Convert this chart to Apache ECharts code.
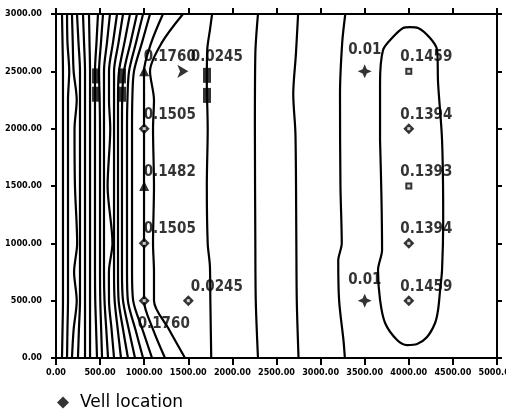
<!DOCTYPE html>
<html><head><meta charset="utf-8">
<script src="https://cdn.jsdelivr.net/npm/echarts@6/dist/echarts.min.js"></script>
<style>html,body{margin:0;padding:0;background:#fff}#c{width:506px;height:413px}</style>
</head><body><div id="c"></div>
<script>
// ---------- data ----------
const xTickLabels = ['0.00','500.00','1000.00','1500.00','2000.00','2500.00','3000.00','3500.00','4000.00','4500.00','5000.00'];
const yTickLabels = ['0.00','500.00','1000.00','1500.00','2000.00','2500.00','3000.00'];

// left cluster of contours: x at each of these y levels
const leftLevels = [3000, 2750, 2500, 2250, 2000, 1500, 1000, 750, 500, 250, 0];
const leftContours = [
  [68, 74, 79, 79, 79, 79, 79, 79, 79, 74, 68],
  [125, 130, 150, 136, 136, 136, 136, 136, 136, 130, 125],
  [181, 190, 200, 235, 210, 215, 240, 205, 235, 200, 181],
  [238, 255, 272, 272, 272, 272, 272, 272, 272, 260, 249],
  [306, 318, 329, 329, 329, 329, 329, 329, 329, 329, 329],
  [374, 380, 386, 386, 386, 386, 386, 386, 386, 386, 386],
  [476, 459, 442, 442, 442, 442, 442, 442, 445, 455, 465],
  [533, 510, 488, 495, 499, 499, 499, 499, 502, 512, 522],
  [612, 578, 544, 544, 544, 544, 544, 544, 550, 570, 590],
  [692, 646, 601, 601, 615, 585, 640, 600, 601, 630, 658],
  [760, 709, 658, 658, 658, 658, 658, 658, 665, 700, 737],
  [839, 776, 714, 703, 703, 703, 703, 703, 710, 760, 816],
  [918, 845, 771, 750, 748, 748, 748, 748, 760, 825, 896],
  [987, 907, 828, 810, 805, 805, 805, 805, 815, 900, 987],
  [1066, 975, 884, 865, 862, 862, 862, 862, 875, 980, 1089],
  [1213, 1080, 998, 998, 998, 998, 998, 998, 998, 1100, 1236],
  [1440, 1200, 1066, 1111, 1100, 1111, 1100, 1111, 1111, 1280, 1463]
];
const contourB = [[1770,3000],[1745,2860],[1715,2690],[1710,2400],[1720,2000],[1710,1500],[1720,1000],[1745,800],[1750,500],[1760,0]];
const contourC = [[2290,3000],[2260,2650],[2255,2000],[2260,1000],[2265,500],[2290,0]];
const contourD = [[2745,3000],[2720,2650],[2690,2300],[2715,1950],[2725,1000],[2730,500],[2750,0]];
const contourE = [[3280,3000],[3245,2750],[3220,2300],[3225,1500],[3240,1000],[3200,850],[3210,500],[3260,150],[3275,0]];
const contourLoop = [[3674,1901],[3674,2398],[3708,2686],[3810,2790],[3935,2878],[4014,2886],[4105,2878],[4241,2790],[4321,2686],[4332,2398],[4377,1901],[4390,1200],[4377,767],[4355,593],[4332,419],[4298,305],[4207,183],[4094,122],[3980,113],[3867,157],[3731,305],[3674,506],[3651,767],[3697,942],[3690,1400],[3674,1901]];

// wells
const wellX = [1000,1500,1000,1000,1000,1000,1500,3500,3500,4000,4000,4000,4000,4000];
const wellY = [2500,2500,2000,1500,1000,500,500,2500,500,2500,2000,1500,1000,500];
const wellLabels = ['0.1760','0.0245','0.1505','0.1482','0.1505','0.1760','0.0245','0.01','0.01','0.1459','0.1394','0.1393','0.1394','0.1459'];

// contour label blocks
const blockX = [454, 454, 748, 748, 1712, 1712];
const blockY = [2460, 2300, 2460, 2300, 2465, 2290];

// ---------- styling ----------
const FONT = "'DejaVu Sans Condensed','Liberation Sans Narrow','DejaVu Sans',sans-serif";
const markerKind = ['tri','arrow','dia','tri','dia','dia','dia','star','star','sq','dia','sq','dia','dia'];
const kinds = {
  tri:  {symbol:'triangle', size:10, rotate:0, inner:0},
  arrow:{symbol:'arrow', size:[10,11], rotate:-90, inner:0},
  dia:  {symbol:'diamond', size:11, rotate:0, inner:3},
  star: {symbol:'path://M0,-10 L3,-3 L10,0 L3,3 L0,10 L-3,3 L-10,0 L-3,-3 Z', size:14, rotate:0, inner:0},
  sq:   {symbol:'rect', size:7, rotate:0, inner:3}
};
function labelOffset(i){
  const x = wellX[i], y = wellY[i];
  if (x === 3500) return [-17, -21];
  if (x === 4000) return [-9, -14];
  if (x === 1000 && y === 500) return [-7, 23];
  if (x === 1500) return [2, -14];
  return [-1, -14];
}
function lineSeries(data){
  return {type:'line', data:data, symbol:'none', showSymbol:false, smooth:0.3, silent:true,
    lineStyle:{color:'#000', width:2.2}, z:2};
}

const series = [];
leftContours.forEach(xs => series.push(lineSeries(xs.map((x, j) => [x, leftLevels[j]]))));
[contourB, contourC, contourD, contourE, contourLoop].forEach(d => series.push(lineSeries(d)));

series.push({
  type:'scatter', silent:true, z:4,
  data: blockX.map((x, i) => [x, blockY[i]]),
  symbol:'rect', symbolSize:[8, 15], itemStyle:{color:'#000'}
});

series.push({
  name:'Vell location', type:'scatter', silent:true, z:5,
  itemStyle:{color:'#000'},
  data: wellX.map((x, i) => {
    const k = kinds[markerKind[i]];
    return {value:[x, wellY[i]], symbol:k.symbol, symbolSize:k.size, symbolRotate:k.rotate};
  })
});
series.push({
  type:'scatter', silent:true, z:6,
  itemStyle:{color:'#fff'},
  data: wellX.map((x, i) => ({value:[x, wellY[i]], symbol:'rect', symbolSize:kinds[markerKind[i]].inner}))
    .filter((d, i) => kinds[markerKind[i]].inner > 0)
});
// well value labels
series.push({
  type:'scatter', silent:true, z:7, symbol:'rect', symbolSize:1,
  itemStyle:{color:'rgba(0,0,0,0)'},
  data: wellX.map((x, i) => ({
    value:[x, wellY[i]],
    label:{show:true, formatter:wellLabels[i], position:'right', distance:0, align:'left', verticalAlign:'middle',
      offset:labelOffset(i), fontSize:15, fontWeight:'bold', fontFamily:FONT, color:'#000', textBorderWidth:0}
  }))
});

const axisLine = {show:true, onZero:false, lineStyle:{color:'#000', width:2}};
const tickStyle = {color:'#000', width:2};
const option = {
  animation:false,
  backgroundColor:'#fff',
  grid:{left:56, right:9, top:14, bottom:55, outerBoundsMode:'none', containLabel:false},
  legend:{
    data:['Vell location'], left:52, top:389, icon:'diamond', itemWidth:12, itemHeight:12,
    textStyle:{fontSize:17, fontFamily:"'DejaVu Sans',sans-serif", color:'#000', padding:[0,0,0,6]}
  },
  xAxis:[
    {type:'value', min:0, max:5000, interval:500, position:'bottom',
      axisLine:axisLine, axisTick:{show:true, length:7, lineStyle:tickStyle}, splitLine:{show:false},
      axisLabel:{formatter:(v) => xTickLabels[Math.round(v/500)], fontSize:9, fontWeight:'bold', fontFamily:FONT, color:'#000', margin:10}},
    {type:'value', min:0, max:5000, interval:500, position:'top',
      axisLine:axisLine, axisTick:{show:true, length:6, lineStyle:tickStyle}, splitLine:{show:false},
      axisLabel:{show:false}}
  ],
  yAxis:[
    {type:'value', min:0, max:3000, interval:500, position:'left',
      axisLine:axisLine, axisTick:{show:true, length:5, lineStyle:tickStyle}, splitLine:{show:false},
      axisLabel:{formatter:(v) => yTickLabels[Math.round(v/500)], fontSize:9, fontWeight:'bold', fontFamily:FONT, color:'#000', margin:14}},
    {type:'value', min:0, max:3000, interval:500, position:'right',
      axisLine:axisLine, axisTick:{show:true, length:5, lineStyle:tickStyle}, splitLine:{show:false},
      axisLabel:{show:false}}
  ],
  series:series
};
const chart = echarts.init(document.getElementById('c'));
chart.setOption(option);
</script></body></html>
